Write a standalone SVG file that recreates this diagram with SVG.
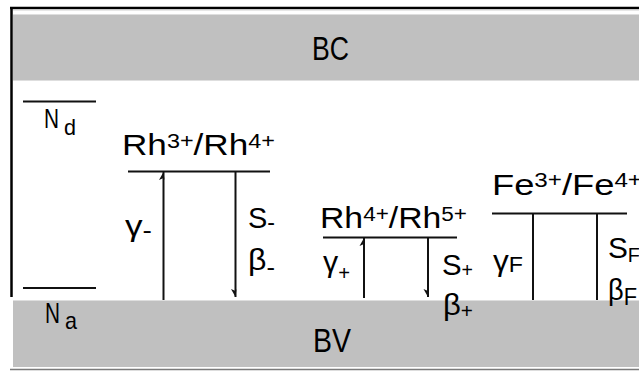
<svg xmlns="http://www.w3.org/2000/svg" width="639" height="371" viewBox="0 0 639 371">
<style>
text{font-family:"Liberation Sans",Arial,sans-serif;fill:#000}
.t{font-size:30px}
.sup{font-size:20px}
.sub{font-size:20px}
.minus{font-size:24px}
.band{fill:#c0c0c0}
.edge{stroke:#dedede;stroke-width:1;fill:none}
.lvl{stroke:#111;stroke-width:2;fill:none}
.conn{stroke:#111;stroke-width:2;fill:none}
</style>
<defs>
<marker id="headUp" markerUnits="userSpaceOnUse" markerWidth="12" markerHeight="12" refX="0" refY="0" viewBox="-10 -6 12 12" orient="auto" overflow="visible">
<path d="M0,0 L-8,-4.5 L-6,0 L-8,1 z" fill="#111"/>
</marker>
<marker id="headDown" markerUnits="userSpaceOnUse" markerWidth="12" markerHeight="12" refX="0" refY="0" viewBox="-10 -6 12 12" orient="auto" overflow="visible">
<path d="M0,0 L-8,4.5 L-6,0 L-8,-1 z" fill="#111"/>
</marker>
</defs>
<rect width="639" height="371" fill="#fff"/>
<g id="frame">
<line x1="10" y1="8" x2="639" y2="8" stroke="#000" stroke-width="2.5"/>
<line x1="11.5" y1="7" x2="11.5" y2="297" stroke="#000" stroke-width="2.5"/>
<line x1="13" y1="10" x2="639" y2="10" stroke="#cfcfcf" stroke-width="1"/>
<line x1="10" y1="369.5" x2="639" y2="369.5" stroke="#7a7a7a" stroke-width="1.5"/>
</g>
<g id="band-bc">
<rect class="band" x="13" y="14" width="626" height="67"/>
<line class="edge" x1="13" y1="14.5" x2="639" y2="14.5"/>
<line class="edge" x1="13" y1="80.5" x2="639" y2="80.5"/>
<text x="312" y="60" style="font-size:33px" textLength="37" lengthAdjust="spacingAndGlyphs">BC</text>
</g>
<g id="band-bv">
<rect class="band" x="13" y="300" width="626" height="67"/>
<line class="edge" x1="13" y1="300.5" x2="639" y2="300.5"/>
<text x="313" y="352" style="font-size:33px" textLength="38" lengthAdjust="spacingAndGlyphs">BV</text>
</g>
<g id="level-nd">
<line class="lvl" x1="23" y1="101.5" x2="96" y2="101.5"/>
<text x="44" y="128" style="font-size:27px" textLength="15" lengthAdjust="spacingAndGlyphs">N</text>
<text x="64" y="135" style="font-size:22px" textLength="12" lengthAdjust="spacingAndGlyphs">d</text>
</g>
<g id="level-na">
<line class="lvl" x1="23" y1="288" x2="96" y2="288"/>
<text x="45" y="323" style="font-size:29px" textLength="15" lengthAdjust="spacingAndGlyphs">N</text>
<text x="65" y="329" style="font-size:24px" textLength="12" lengthAdjust="spacingAndGlyphs">a</text>
</g>
<g id="level-rh34">
<line class="lvl" x1="128" y1="171.5" x2="270" y2="171.5"/>
<text class="t" x="122" y="155" textLength="153" lengthAdjust="spacingAndGlyphs">Rh<tspan class="sup" dy="-7">3+</tspan><tspan dy="7">/Rh</tspan><tspan class="sup" dy="-7">4+</tspan></text>
<text class="t" x="125" y="236" textLength="27" lengthAdjust="spacingAndGlyphs">γ<tspan class="minus" dy="2">-</tspan></text>
<text class="t" x="248" y="228" textLength="27" lengthAdjust="spacingAndGlyphs">S<tspan class="minus" dy="2">-</tspan></text>
<text class="t" x="248" y="270" textLength="27" lengthAdjust="spacingAndGlyphs">β<tspan class="minus" dy="5">-</tspan></text>
</g>
<g id="level-rh45">
<line class="lvl" x1="323" y1="237.5" x2="457" y2="237.5"/>
<text class="t" x="320" y="228" textLength="147" lengthAdjust="spacingAndGlyphs">Rh<tspan class="sup" dy="-7">4+</tspan><tspan dy="7">/Rh</tspan><tspan class="sup" dy="-7">5+</tspan></text>
<text class="t" x="323" y="272" textLength="27" lengthAdjust="spacingAndGlyphs">γ<tspan class="sub" dy="8">+</tspan></text>
<text class="t" x="442" y="275" textLength="31" lengthAdjust="spacingAndGlyphs">S<tspan class="sub" dy="2">+</tspan></text>
<text class="t" x="443" y="315" textLength="30" lengthAdjust="spacingAndGlyphs">β<tspan class="sub" dy="3">+</tspan></text>
</g>
<g id="level-fe34">
<line class="lvl" x1="492" y1="213.5" x2="627" y2="213.5"/>
<text class="t" x="492" y="195" textLength="150" lengthAdjust="spacingAndGlyphs">Fe<tspan class="sup" dy="-8">3+</tspan><tspan dy="8">/Fe</tspan><tspan class="sup" dy="-8">4+</tspan></text>
<text class="t" x="493" y="271" textLength="30" lengthAdjust="spacingAndGlyphs">γ<tspan style="font-size:22px" dy="1">F</tspan></text>
<text class="t" x="608" y="258" textLength="32" lengthAdjust="spacingAndGlyphs">S<tspan class="sub" dy="4">F</tspan></text>
<text class="t" x="608" y="300" textLength="29" lengthAdjust="spacingAndGlyphs">β<tspan style="font-size:24px" dy="5">F</tspan></text>
</g>
<g id="connectors">
<line class="conn" x1="163.5" y1="300" x2="163.5" y2="172" marker-end="url(#headUp)"/>
<line class="conn" x1="235.5" y1="172" x2="235.5" y2="297" marker-end="url(#headDown)"/>
<line class="conn" x1="364" y1="298" x2="364" y2="238" marker-end="url(#headUp)"/>
<line class="conn" x1="428" y1="238" x2="428" y2="297" marker-end="url(#headDown)"/>
<line class="conn" x1="533" y1="214" x2="533" y2="300"/>
<line class="conn" x1="597" y1="214" x2="597" y2="300"/>
</g>
</svg>
